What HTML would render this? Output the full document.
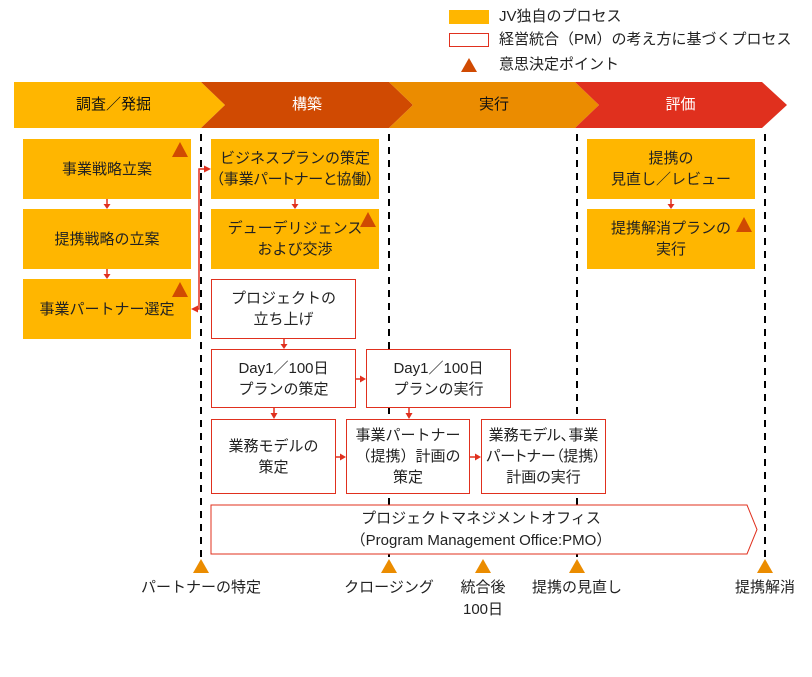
<!DOCTYPE html>
<html><head><meta charset="utf-8">
<style>
html,body{margin:0;padding:0;background:#fff;}
body{width:812px;height:677px;position:relative;overflow:hidden;font-family:"Liberation Sans","Noto Sans CJK JP",sans-serif;color:#222;font-size:15px;}
.l{position:absolute;left:0;top:0;}
.b{position:absolute;box-sizing:border-box;display:flex;align-items:center;justify-content:center;text-align:center;line-height:21px;white-space:nowrap;}
.o{background:#FFB600;}
.r{background:#fff;border:1px solid #E0301E;}
.t{position:absolute;white-space:nowrap;line-height:22px;text-align:center;}
.p{font-feature-settings:"palt";}
</style></head><body>
<svg class="l" width="812" height="677" style="z-index:0">
  <polygon points="14,82 201,82 225,105 201,128 14,128" fill="#FFB600"/>
  <polygon points="201,82 389,82 413,105 389,128 201,128 225,105" fill="#D04A02"/>
  <polygon points="389,82 575,82 599,105 575,128 389,128 413,105" fill="#EB8C00"/>
  <polygon points="575,82 762,82 787,105 762,128 575,128 599,105" fill="#E0301E"/>
  <g stroke="#000" stroke-width="2" stroke-dasharray="7 6">
    <line x1="201" y1="134" x2="201" y2="559"/>
    <line x1="389" y1="134" x2="389" y2="559"/>
    <line x1="577" y1="134" x2="577" y2="559"/>
    <line x1="765" y1="134" x2="765" y2="559"/>
  </g>
  <polygon points="211,505 747,505 757,529.5 747,554 211,554" fill="#fff" stroke="#E0301E" stroke-width="1"/>
  <g fill="#EB8C00">
    <polygon points="193,573 201,559 209,573"/>
    <polygon points="381,573 389,559 397,573"/>
    <polygon points="475,573 483,559 491,573"/>
    <polygon points="569,573 577,559 585,573"/>
    <polygon points="757,573 765,559 773,573"/>
  </g>
</svg>

<div class="t" style="left:14px;top:94px;width:199px;color:#111;">調査／発掘</div>
<div class="t" style="left:213px;top:94px;width:188px;color:#fff;">構築</div>
<div class="t" style="left:401px;top:94px;width:186px;color:#111;">実行</div>
<div class="t" style="left:587px;top:94px;width:187px;color:#fff;">評価</div>

<!-- legend -->
<div style="position:absolute;left:449px;top:10px;width:40px;height:14px;background:#FFB600;"></div>
<div style="position:absolute;left:449px;top:33px;width:40px;height:14px;box-sizing:border-box;border:1px solid #E0301E;background:#fff;"></div>
<div class="t" style="left:499px;top:6px;text-align:left;">JV独自のプロセス</div>
<div class="t" style="left:499px;top:29px;text-align:left;">経営統合（PM）の考え方に基づくプロセス</div>
<div class="t" style="left:499px;top:54px;text-align:left;">意思決定ポイント</div>

<!-- orange boxes -->
<div class="b o" style="left:23px;top:139px;width:168px;height:60px;"><div>事業戦略立案</div></div>
<div class="b o" style="left:23px;top:209px;width:168px;height:60px;"><div>提携戦略の立案</div></div>
<div class="b o" style="left:23px;top:279px;width:168px;height:60px;"><div>事業パートナー選定</div></div>
<div class="b o" style="left:211px;top:139px;width:168px;height:60px;"><div>ビジネスプランの策定<br><span class="p">（事業パートナーと協働）</span></div></div>
<div class="b o" style="left:211px;top:209px;width:168px;height:60px;"><div>デューデリジェンス<br>および交渉</div></div>
<div class="b o" style="left:587px;top:139px;width:168px;height:60px;"><div>提携の<br>見直し／レビュー</div></div>
<div class="b o" style="left:587px;top:209px;width:168px;height:60px;"><div>提携解消プランの<br>実行</div></div>

<!-- red boxes -->
<div class="b r" style="left:211px;top:279px;width:145px;height:60px;"><div>プロジェクトの<br>立ち上げ</div></div>
<div class="b r" style="left:211px;top:349px;width:145px;height:59px;"><div>Day1／100日<br>プランの策定</div></div>
<div class="b r" style="left:366px;top:349px;width:145px;height:59px;"><div>Day1／100日<br>プランの実行</div></div>
<div class="b r" style="left:211px;top:419px;width:125px;height:75px;"><div>業務モデルの<br>策定</div></div>
<div class="b r" style="left:346px;top:419px;width:124px;height:75px;"><div>事業パートナー<br>（提携）計画の<br>策定</div></div>
<div class="b r p" style="left:481px;top:419px;width:125px;height:75px;"><div>業務モデル､事業<br>パートナー（提携）<br>計画の実行</div></div>

<div class="t" style="left:211px;top:508px;width:540px;">プロジェクトマネジメントオフィス<br>（Program Management Office:PMO）</div>

<!-- milestones -->
<div class="t" style="left:131px;top:577px;width:140px;">パートナーの特定</div>
<div class="t" style="left:319px;top:577px;width:140px;">クロージング</div>
<div class="t" style="left:433px;top:577px;width:100px;">統合後<br>100日</div>
<div class="t" style="left:507px;top:577px;width:140px;">提携の見直し</div>
<div class="t" style="left:715px;top:577px;width:100px;">提携解消</div>

<svg class="l" width="812" height="677" style="z-index:2">
  <!-- decision triangles -->
  <g fill="#D04A02">
    <polygon points="461,72 469,58 477,72"/>
    <polygon points="172,157 180,142 188,157"/>
    <polygon points="172,297 180,282 188,297"/>
    <polygon points="360,227 368,212 376,227"/>
    <polygon points="736,232 744,217 752,232"/>
  </g>
  <!-- connectors -->
  <g stroke="#E0301E" stroke-width="1.5" fill="none">
    <line x1="107" y1="199" x2="107" y2="205"/>
    <line x1="107" y1="269" x2="107" y2="275"/>
    <line x1="295" y1="199" x2="295" y2="205"/>
    <line x1="671" y1="199" x2="671" y2="205"/>
    <line x1="284" y1="339" x2="284" y2="345"/>
    <line x1="274" y1="408" x2="274" y2="414"/>
    <line x1="409" y1="408" x2="409" y2="414"/>
    <line x1="356" y1="379" x2="361" y2="379"/>
    <line x1="336" y1="457" x2="341" y2="457"/>
    <line x1="470" y1="457" x2="476" y2="457"/>
    <polyline points="205,169 199,169 199,309 197,309"/>
  </g>
  <g fill="#E0301E">
    <polygon points="103.5,204 110.5,204 107,209"/>
    <polygon points="103.5,274 110.5,274 107,279"/>
    <polygon points="291.5,204 298.5,204 295,209"/>
    <polygon points="667.5,204 674.5,204 671,209"/>
    <polygon points="280.5,344 287.5,344 284,349"/>
    <polygon points="270.5,413 277.5,413 274,419"/>
    <polygon points="405.5,413 412.5,413 409,419"/>
    <polygon points="360,375.5 360,382.5 366,379"/>
    <polygon points="340,453.5 340,460.5 346,457"/>
    <polygon points="475,453.5 475,460.5 481,457"/>
    <polygon points="204,165.5 204,172.5 211,169"/>
    <polygon points="198,305.5 198,312.5 191,309"/>
  </g>
</svg>
</body></html>
